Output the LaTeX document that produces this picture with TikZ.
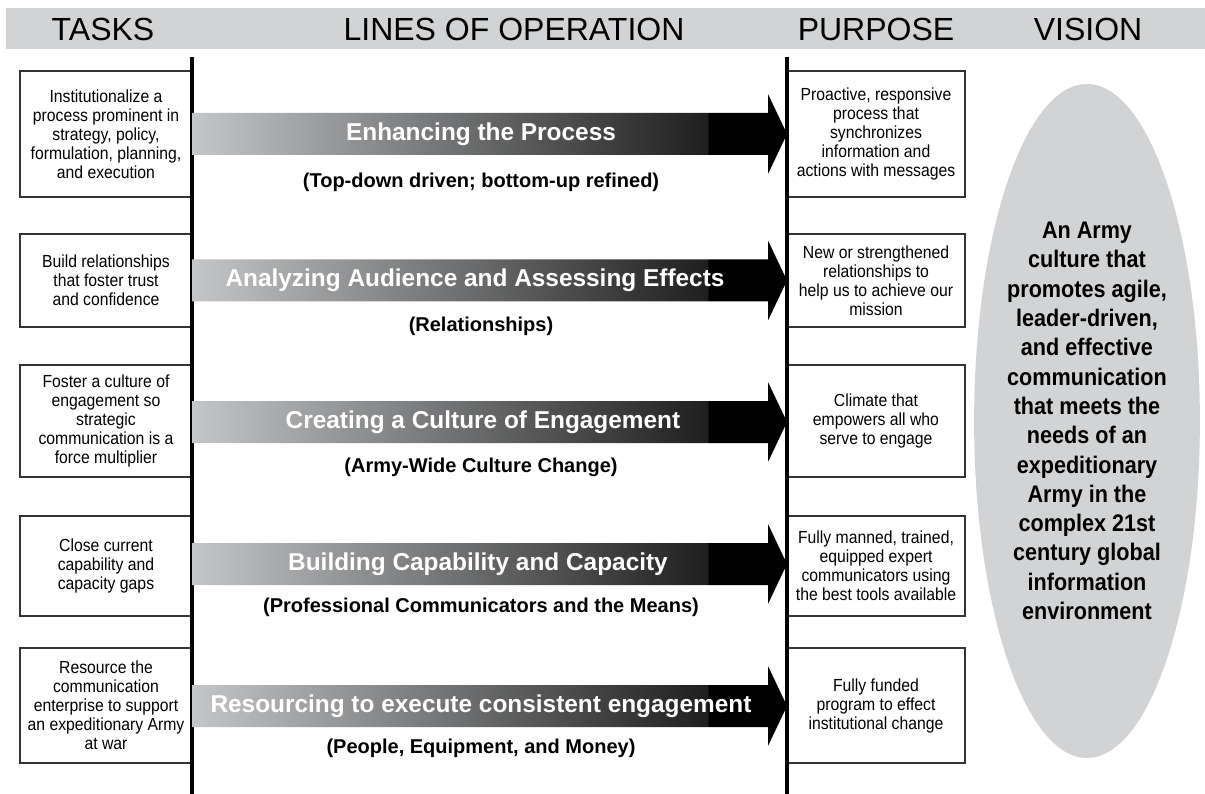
\documentclass[tikz,border=0pt]{standalone}
\usepackage{fontspec}
\setmainfont{Liberation Sans}
\newfontfamily\narrowfont[FakeStretch=0.9]{Liberation Sans}
\usetikzlibrary{shapes.geometric}
\definecolor{headgray}{RGB}{209,211,212}
\definecolor{lopgray}{RGB}{196,198,200}
\pgfdeclarehorizontalshading{lopshade}{100bp}{color(0bp)=(lopgray); color(25bp)=(lopgray); color(68.3bp)=(black!88); color(68.4bp)=(black); color(100bp)=(black)}

\begin{document}
\begin{tikzpicture}[x=1pt, y=-1pt,
  head/.style={font=\fontsize{32}{36}\selectfont, inner sep=0pt},
  taskbox/.style={draw=black!80, line width=1.1pt, fill=white, align=center, inner sep=0pt, minimum width=172pt, font=\narrowfont\fontsize{17.5}{19}\selectfont},
  purposebox/.style={taskbox, minimum width=178pt},
  loptitle/.style={text=white, inner sep=0pt, font=\bfseries\fontsize{24.4}{28}\selectfont},
  lopsub/.style={inner sep=0pt, font=\bfseries\fontsize{20}{24}\selectfont},
  vline/.style={line width=3.6pt, black}]
  \useasboundingbox (0,0) rectangle (1205,794);
  \fill[headgray] (6,8) rectangle (1205,49);
  \node[head] (hTasks) at (103,29) {TASKS};
  \node[head] (hLines) at (514,29) {LINES OF OPERATION};
  \node[head] (hPurpose) at (876,29) {PURPOSE};
  \node[head] (hVision) at (1088,29) {VISION};
  \node[taskbox, minimum height=126pt] (task1) at (106,134) {Institutionalize a\\process prominent in\\strategy, policy,\\formulation, planning,\\and execution};
  \node[taskbox, minimum height=93pt] (task2) at (106,280.5) {Build relationships\\that foster trust\\and confidence};
  \node[taskbox, minimum height=112pt] (task3) at (106,421) {Foster a culture of\\engagement so\\strategic\\communication is a\\force multiplier};
  \node[taskbox, minimum height=100pt] (task4) at (106,566) {Close current\\capability and\\capacity gaps};
  \node[taskbox, minimum height=115pt] (task5) at (106,705.5) {Resource the\\communication\\enterprise to support\\an expeditionary Army\\at war};
  \node[purposebox, minimum height=126pt] (purp1) at (876,134) {Proactive, responsive\\process that\\synchronizes\\information and\\actions with messages};
  \node[purposebox, minimum height=93pt] (purp2) at (876,280.5) {New or strengthened\\relationships to\\help us to achieve our\\mission};
  \node[purposebox, minimum height=112pt] (purp3) at (876,421) {Climate that\\empowers all who\\serve to engage};
  \node[purposebox, minimum height=100pt] (purp4) at (876,566) {Fully manned, trained,\\equipped expert\\communicators using\\the best tools available};
  \node[purposebox, minimum height=115pt] (purp5) at (876,705.5) {Fully funded\\program to effect\\institutional change};
  \coordinate (lt) at (192,57);
  \coordinate (lb) at (192,794);
  \coordinate (rt) at (787,57);
  \coordinate (rb) at (787,794);
  \draw[vline] (lt) -- (lb);
  \draw[vline] (rt) -- (rb);
  \coordinate (s1) at (192,134);
  \coordinate (e1) at (787,134);
  \coordinate (s2) at (192,280.5);
  \coordinate (e2) at (787,280.5);
  \coordinate (s3) at (192,422);
  \coordinate (e3) at (787,422);
  \coordinate (s4) at (192,564);
  \coordinate (e4) at (787,564);
  \coordinate (s5) at (192,706);
  \coordinate (e5) at (787,706);
  \shade[shading=lopshade] (s1) ++(0,-21) -- ++(576,0) -- ++(0,-19) -- (e1) -- ++(-19,40) -- ++(0,-19) -- ++(-576,0) -- cycle;
  \shade[shading=lopshade] (s2) ++(0,-21) -- ++(576,0) -- ++(0,-19) -- (e2) -- ++(-19,40) -- ++(0,-19) -- ++(-576,0) -- cycle;
  \shade[shading=lopshade] (s3) ++(0,-21) -- ++(576,0) -- ++(0,-19) -- (e3) -- ++(-19,40) -- ++(0,-19) -- ++(-576,0) -- cycle;
  \shade[shading=lopshade] (s4) ++(0,-21) -- ++(576,0) -- ++(0,-19) -- (e4) -- ++(-19,40) -- ++(0,-19) -- ++(-576,0) -- cycle;
  \shade[shading=lopshade] (s5) ++(0,-21) -- ++(576,0) -- ++(0,-19) -- (e5) -- ++(-19,40) -- ++(0,-19) -- ++(-576,0) -- cycle;
  \node[loptitle] (lop1) at (481,134) {Enhancing the Process};
  \node[loptitle] (lop2) at (475,280.5) {Analyzing Audience and Assessing Effects};
  \node[loptitle] (lop3) at (483,422) {Creating a Culture of Engagement};
  \node[loptitle] (lop4) at (478,564) {Building Capability and Capacity};
  \node[loptitle] (lop5) at (481,706) {Resourcing to execute consistent engagement};
  \node[lopsub] (sub1) at (481,182) {(Top-down driven; bottom-up refined)};
  \node[lopsub] (sub2) at (481,326) {(Relationships)};
  \node[lopsub] (sub3) at (481,467) {(Army-Wide Culture Change)};
  \node[lopsub] (sub4) at (481,607) {(Professional Communicators and the Means)};
  \node[lopsub] (sub5) at (481,748) {(People, Equipment, and Money)};
  \node[ellipse, fill=headgray, minimum width=212pt, minimum height=674pt, inner sep=0pt, align=center, font=\narrowfont\bfseries\fontsize{24}{29.3}\selectfont] (vision) at (1087,421) {An Army\\culture that\\promotes agile,\\leader-driven,\\and effective\\communication\\that meets the\\needs of an\\expeditionary\\Army in the\\complex 21st\\century global\\information\\environment};
\end{tikzpicture}
\end{document}
